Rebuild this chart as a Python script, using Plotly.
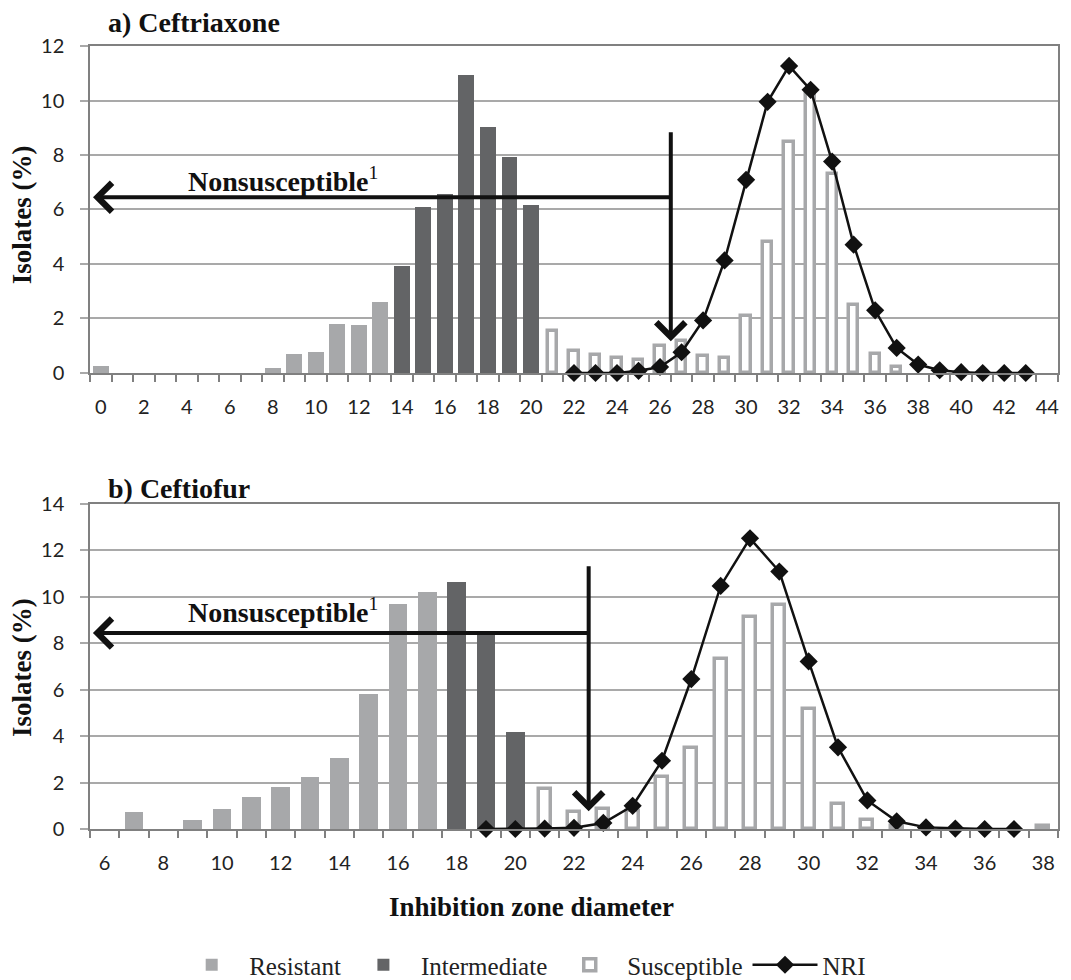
import plotly.graph_objects as go

# ---------------- data ----------------
# a) Ceftriaxone
a_res_x = [0, 8, 9, 10, 11, 12, 13]
a_res_y = [0.25, 0.18, 0.70, 0.76, 1.81, 1.75, 2.59]
a_int_x = [14, 15, 16, 17, 18, 19, 20]
a_int_y = [3.91, 6.09, 6.58, 10.94, 9.03, 7.92, 6.16]
a_sus_x = [21, 22, 23, 24, 25, 26, 27, 28, 29, 30, 31, 32, 33, 34, 35, 36, 37]
a_sus_y = [1.53, 0.82, 0.67, 0.55, 0.46, 0.98, 1.19, 0.61, 0.55, 2.10, 4.79, 8.47,
           10.33, 7.31, 2.51, 0.70, 0.21]
a_nri_x = list(range(22, 44))
a_nri_y = [0, 0, 0, 0.08, 0.22, 0.76, 1.93, 4.13, 7.09, 9.95, 11.27, 10.39, 7.76,
           4.71, 2.30, 0.92, 0.31, 0.10, 0.03, 0, 0, 0]
a_ticks = list(range(0, 45, 2))
a_breakpoint = 26.5

# b) Ceftiofur
b_res_x = [7, 9, 10, 11, 12, 13, 14, 15, 16, 17]
b_res_y = [0.73, 0.39, 0.88, 1.38, 1.81, 2.22, 3.07, 5.80, 9.71, 10.20]
b_int_x = [18, 19, 20]
b_int_y = [10.65, 8.45, 4.20]
b_sus_x = [21, 22, 23, 24, 25, 26, 27, 28, 29, 30, 31, 32, 33, 38]
b_sus_y = [1.72, 0.73, 0.86, 0.79, 2.22, 3.49, 7.33, 9.15, 9.66, 5.16, 1.09, 0.37,
           0.11, 0.12]
b_nri_x = list(range(19, 38))
b_nri_y = [0, 0, 0.02, 0.05, 0.26, 1.00, 2.94, 6.46, 10.47, 12.52, 11.09, 7.22,
           3.52, 1.23, 0.33, 0.07, 0.02, 0, 0]
b_ticks = list(range(6, 39, 2))
b_breakpoint = 22.5

# ---------------- styles ----------------
RES = '#a7a8aa'
INT = '#636466'
SUS = '#a7a8aa'
GRID = '#a9a9a9'
AX = '#808080'
SERIF = 'Liberation Serif'
SANS = 'Lato'

fig = go.Figure()


def add_panel(rx, ry, ix, iy, sx, sy, nx, ny, xa, ya, wfill, wsus, show):
    fig.add_trace(go.Bar(x=rx, y=ry, name='Resistant', marker=dict(color=RES, line=dict(width=0)),
                         width=wfill, xaxis=xa, yaxis=ya, showlegend=show, legendrank=1))
    fig.add_trace(go.Bar(x=ix, y=iy, name='Intermediate', marker=dict(color=INT, line=dict(width=0)),
                         width=wfill, xaxis=xa, yaxis=ya, showlegend=show, legendrank=2))
    fig.add_trace(go.Bar(x=sx, y=sy, name='Susceptible',
                         marker=dict(color='white', line=dict(color=SUS, width=3.5)),
                         width=wsus, xaxis=xa, yaxis=ya, showlegend=show, legendrank=3))
    fig.add_trace(go.Scatter(x=nx, y=ny, name='NRI', mode='lines+markers',
                             line=dict(color='#111111', width=2.5),
                             marker=dict(symbol='diamond', size=14, color='#111111'),
                             cliponaxis=False, xaxis=xa, yaxis=ya, showlegend=show,
                             legendrank=4))


add_panel(a_res_x, a_res_y, a_int_x, a_int_y, a_sus_x, a_sus_y, a_nri_x, a_nri_y,
          'x', 'y', 0.74, 0.43, True)
add_panel(b_res_x, b_res_y, b_int_x, b_int_y, b_sus_x, b_sus_y, b_nri_x, b_nri_y,
          'x2', 'y2', 0.63, 0.42, False)

tickfont = dict(family=SANS, size=20, color='#222222')


def xaxis_cfg(rng, ticks, anchor):
    return dict(range=rng, tickmode='array', tickvals=ticks, ticktext=[str(t) for t in ticks],
                ticks='', showline=True, linecolor=AX, linewidth=1.5, mirror=True,
                showgrid=False, zeroline=False, tickfont=tickfont, ticklabelstandoff=15,
                minor=dict(ticks='outside', tick0=rng[0], dtick=1, ticklen=7,
                           tickcolor=AX, tickwidth=1.5, showgrid=False),
                anchor=anchor, domain=[0, 1])


def yaxis_cfg(rng, dom, anchor):
    return dict(range=rng, dtick=2, tick0=0, ticks='outside', ticklen=8, tickcolor=GRID,
                tickwidth=1.5, showgrid=True, gridcolor=GRID, gridwidth=1.5,
                showline=True, linecolor=AX, linewidth=1.5, mirror=True, zeroline=False,
                tickfont=tickfont, ticklabelstandoff=12, domain=dom, anchor=anchor)


annotations = []


def arrows(xr, yr, tipx, hy, bx, vtop, vtip, tx, ty):
    annotations.append(dict(x=tipx, y=hy, ax=bx, ay=hy, xref=xr, yref=yr, axref=xr, ayref=yr,
                            showarrow=True, arrowhead=4, arrowwidth=4, arrowsize=1.4,
                            arrowcolor='#111111', text=''))
    annotations.append(dict(x=bx, y=vtip, ax=bx, ay=vtop, xref=xr, yref=yr, axref=xr, ayref=yr,
                            showarrow=True, arrowhead=4, arrowwidth=4, arrowsize=1.4,
                            arrowcolor='#111111', text=''))
    annotations.append(dict(x=tx, y=ty, xref=xr, yref=yr, showarrow=False,
                            text='<b>Nonsusceptible</b><sup>1</sup>',
                            font=dict(family=SERIF, size=28, color='#111111')))


arrows('x', 'y', -0.36, 6.45, a_breakpoint, 8.89, 1.16, 8.47, 7.1)
arrows('x2', 'y2', 5.6, 8.44, b_breakpoint, 11.38, 0.76, 12.08, 9.4)

title_font = dict(family=SERIF, size=28, color='#111111')
ytitle_font = dict(family=SERIF, size=27, color='#111111')
annotations += [
    dict(x=0.0176, y=1.0305, xref='paper', yref='paper', xanchor='left', yanchor='middle',
         borderpad=0, showarrow=False, text='<b>a) Ceftriaxone</b>', font=title_font),
    dict(x=0.0176, y=0.4355, xref='paper', yref='paper', xanchor='left', yanchor='middle',
         borderpad=0, showarrow=False, text='<b>b) Ceftiofur</b>', font=title_font),
    dict(x=-0.0702, y=0.784, xref='paper', yref='paper', textangle=-90,
         xanchor='center', yanchor='middle',
         showarrow=False, text='<b>Isolates (%)</b>', font=ytitle_font),
    dict(x=-0.0702, y=0.2056, xref='paper', yref='paper', textangle=-90,
         xanchor='center', yanchor='middle',
         showarrow=False, text='<b>Isolates (%)</b>', font=ytitle_font),
    dict(x=0.4556, y=-0.0996, xref='paper', yref='paper', xanchor='center', yanchor='middle',
         showarrow=False, text='<b>Inhibition zone diameter</b>',
         font=dict(family=SERIF, size=27, color='#111111')),
]

fig.update_layout(
    width=1063, height=972,
    margin=dict(l=82, r=13, t=38, b=151, autoexpand=False),
    paper_bgcolor='white', plot_bgcolor='white',
    barmode='overlay', bargap=0,
    xaxis=xaxis_cfg([-0.5, 44.5], a_ticks, 'y'),
    yaxis=yaxis_cfg([0, 12], [0.5824, 1], 'x'),
    xaxis2=xaxis_cfg([5.5, 38.5], b_ticks, 'y2'),
    yaxis2=yaxis_cfg([0, 14], [0, 0.4151], 'x2'),
    annotations=annotations,
    legend=dict(orientation='h', x=0.447, y=-0.1737, xanchor='center', yanchor='middle',
                font=dict(family=SERIF, size=25, color='#222222'), itemwidth=65,
                traceorder='normal'),
    showlegend=True,
)

fig.write_html('out.html')
